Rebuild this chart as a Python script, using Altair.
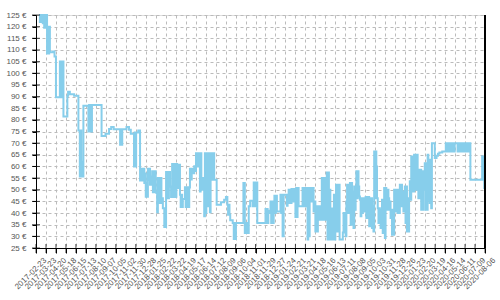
import altair as alt
import pandas as pd

START = "2017-02-23"

# day offset from START, price in EUR (step-after series)
DAYS = [
    8, 11, 13, 16, 19, 21, 23, 25, 27, 29, 31, 33, 35, 37, 39, 47, 52, 56, 67, 69,
    71, 73, 75, 77, 88, 90, 95, 107, 119, 123, 125, 127, 129, 131, 133, 147, 149, 151, 153, 155,
    157, 184, 195, 205, 211,
    218, 236, 238, 240, 242, 254, 261, 266, 275, 277, 279, 281, 287, 292, 294, 296, 298, 300, 302, 304,
    306, 308, 310, 312, 314, 316, 318, 320, 322, 324, 326, 328, 330, 332, 334, 336, 338, 340, 342, 344,
    346, 348, 350, 352, 354, 356, 360, 365, 367, 369, 371, 373, 376, 379, 382, 384, 386, 388, 390, 392,
    394, 396, 398, 400, 402, 404, 406, 408, 410, 412, 418, 420, 422, 424, 426, 428, 430,
    432, 435, 437, 440, 444, 447, 449, 451, 453, 455, 457, 460, 462, 464, 466, 468, 470, 472, 474, 476,
    478, 480, 482, 484, 486, 488, 490, 492, 494, 496, 498, 500, 507, 519, 528, 533, 537, 539, 541, 543,
    545, 552, 555, 557, 559, 561, 582, 586, 588, 590, 592, 594, 597, 601, 608, 611, 613, 615, 617, 619,
    621,
    644, 646, 648, 650, 652, 655, 658, 660, 662, 664, 667, 669, 671, 673, 676, 686, 688, 690, 692, 695,
    704, 706, 709, 711, 713, 715, 717, 719, 721, 723, 725, 728, 730, 732, 734, 737, 748, 750, 752, 754,
    756, 758, 760, 762, 764, 766, 768, 770, 772, 774, 776, 779, 781, 784, 786, 788, 791, 793, 795, 797,
    800, 802, 804, 806, 808, 810, 812, 814, 816, 818, 820, 822, 824, 826, 828, 830, 832, 834, 836, 838,
    840, 842, 844, 846, 848, 850, 852,
    861, 863, 865, 867, 869, 871, 873, 875, 877, 879, 881, 883, 885, 887, 889, 891, 893, 895, 897, 899,
    901, 903, 905, 907, 909, 911, 913, 915, 917, 919, 921, 923, 925, 927, 929, 931, 933, 935, 937, 939,
    941, 943, 945, 947, 949, 951, 953, 955, 957, 959, 961, 963, 965, 967, 969, 971, 973, 975, 977, 979,
    981, 983, 985, 987, 989, 991, 993, 995, 997, 999, 1001, 1003, 1005, 1007, 1009, 1011, 1013, 1015, 1017, 1019,
    1021, 1023, 1025, 1027, 1029, 1031, 1033, 1035, 1037, 1039, 1041, 1043, 1045, 1047, 1049, 1051, 1053, 1055, 1057, 1059,
    1061, 1063, 1065, 1067, 1069, 1071,
    1073, 1075, 1077, 1079, 1081, 1083, 1085, 1087, 1089, 1091, 1093, 1095, 1097, 1099, 1101, 1103, 1105, 1107, 1109, 1111,
    1119, 1124, 1128, 1132, 1140, 1150, 1152, 1154, 1156, 1158, 1160, 1162, 1164, 1166, 1168, 1170, 1173, 1175, 1183, 1187,
    1189, 1191, 1193, 1195, 1197, 1199, 1201, 1203, 1205, 1207, 1209, 1211, 1213, 1215, 1219, 1252, 1254, 1256, 1258, 1260,
]

PRICES = [
    122, 125, 122, 125, 121.5, 125, 119.5, 125, 119.5, 125, 108.5, 120, 108.5, 120, 109, 109.3, 107.2, 89.7, 105, 89.7,
    105, 89.7, 105, 81.4, 90.3, 92.1, 91, 90.3, 75.4, 55.7, 75.4, 55.7, 62, 55.7, 86, 75, 86.4, 75, 86.4, 75,
    86.4, 73.1, 74, 76.1, 76.9,
    76, 69.3, 76, 69.3, 76, 76.9, 75.7, 74, 60, 74.6, 60, 74.6, 75.4, 54, 59, 54, 59, 54, 59, 52.9,
    57, 47, 53, 47, 59, 54.3, 59, 52.1, 55.7, 52.1, 57.9, 48.9, 57.9, 48.9, 57.9, 49, 48.6, 40.3, 55, 44.3,
    55, 44.3, 55, 44.3, 46.4, 42.1, 34, 57.6, 46.4, 57.6, 46.4, 57.6, 51.4, 46.9, 61, 46.9, 61, 46.9, 61, 47,
    61, 50.7, 60.7, 50.7, 60.7, 47.9, 42.6, 47.9, 42.6, 46, 51.1, 42.6, 51.1, 42.6, 51.1, 42.6, 51,
    59, 54.4, 59, 57.1, 60.1, 58, 65.7, 60, 65.7, 60, 65.7, 49.3, 65.7, 50, 55, 50, 55, 38.6, 65.7, 40,
    65.7, 42.9, 65.7, 42.9, 65.7, 40.3, 65.7, 54.3, 65.7, 54.3, 65.7, 54.3, 43.6, 44.6, 45.7, 46.9, 43.6, 39.3, 43.6, 39.3,
    36.9, 35.7, 28.9, 35.7, 28.9, 35.7, 52.9, 31.4, 35.7, 31.4, 35.7, 31.4, 42.9, 45.3, 42.9, 53.1, 42.9, 53.1, 42.9, 53.1,
    35.7,
    41.7, 35.7, 41.7, 35.7, 41, 40, 45, 35.7, 45, 35.7, 41.6, 47.4, 40, 47.4, 40.7, 47.9, 40, 47.9, 30, 47.9,
    43.1, 47.9, 50, 44.3, 50, 44.3, 50.3, 45, 50.3, 45, 50.3, 38.3, 50.7, 38.3, 50.7, 42.9, 50.7, 42.9, 50.7, 42.9,
    50.7, 42.9, 50.7, 28.6, 50.7, 30, 50.7, 45, 50.7, 45, 50.7, 40.7, 45, 32.1, 42.9, 32.1, 42.9, 37.1, 42.9, 37.1,
    42.9, 55, 37.1, 55, 37.1, 55, 42, 37.1, 57.4, 28.6, 57.4, 28.6, 50, 28.6, 42, 28.6, 42, 28.6, 47.9, 28.6,
    47.9, 52.1, 32.1, 52.1, 32.1, 52.1, 28.6,
    31.7, 40, 31.7, 40, 30, 45, 52.1, 40, 52.1, 40, 52.9, 35, 52.9, 35, 49.3, 33.6, 51.4, 41.4, 51.4, 57.9,
    46.4, 57.9, 51.4, 47.1, 45.7, 38.6, 46.4, 40, 46.4, 40.7, 46.4, 40.7, 46.9, 37.9, 46.9, 37.9, 46.9, 34.3, 46.4, 34.3,
    46.4, 33.6, 42.9, 32.1, 66.4, 46.4, 66.4, 60, 46.4, 42.1, 35.7, 42.1, 41.4, 33.6, 41.4, 45.7, 31.4, 45.7, 50.7, 29.3,
    50.7, 50, 41.4, 50, 46.4, 41.4, 45, 37.9, 41.4, 30.7, 41.4, 30.7, 50, 40.7, 50, 40.7, 50, 40, 50, 40,
    52.1, 42.9, 52.1, 42.9, 49.3, 40.7, 49.3, 51.4, 35.7, 51.4, 32.1, 46.4, 32.1, 46.4, 53.6, 45.7, 64.3, 49.3, 64.3, 49.3,
    65, 50, 65, 50, 65, 50,
    46.4, 58.6, 46.4, 58.6, 41.4, 57.9, 41.4, 57.9, 50, 61.4, 41.4, 61.4, 41.4, 65, 45.7, 62.9, 44.3, 62.9, 42.1, 70,
    63.6, 64.6, 65.4, 66, 66.4, 70, 66.4, 70, 66.4, 70, 66.4, 70, 66.4, 70, 66.4, 70, 66.4, 70, 66.4, 70,
    66.4, 70, 66.4, 70, 66.4, 70, 66.4, 70, 66.4, 70, 66.4, 70, 66.4, 70, 54.3, 64.3, 54.3, 64.3, 50.7, 50.7,
]

X_TICKS = [
    "2017-02-23", "2017-03-23", "2017-04-20", "2017-05-18", "2017-06-15", "2017-07-13",
    "2017-08-10", "2017-09-07", "2017-10-05", "2017-11-02", "2017-11-30", "2017-12-28",
    "2018-01-25", "2018-02-22", "2018-03-22", "2018-04-19", "2018-05-17", "2018-06-14",
    "2018-07-12", "2018-08-09", "2018-09-06", "2018-10-04", "2018-11-01", "2018-11-29",
    "2018-12-27", "2019-01-24", "2019-02-21", "2019-03-21", "2019-04-18", "2019-05-16",
    "2019-06-13", "2019-07-11", "2019-08-08", "2019-09-05", "2019-10-03", "2019-10-31",
    "2019-11-28", "2019-12-26", "2020-01-23", "2020-02-20", "2020-03-19", "2020-04-16",
    "2020-05-14", "2020-06-11", "2020-07-09", "2020-08-06",
]
Y_TICKS = [25, 30, 35, 40, 45, 50, 55, 60, 65, 70, 75, 80, 85, 90, 95, 100, 105, 110, 115, 120, 125]

W, H = 449, 233
LINE_COLOR = "#87CEEB"
FONT = "Liberation Sans"

assert len(DAYS) == len(PRICES)

dates = pd.Timestamp(START) + pd.to_timedelta(DAYS, unit="D")
df = pd.DataFrame({"date": [d.strftime("%Y-%m-%d") for d in dates], "price": PRICES})
xticks_df = pd.DataFrame({"date": X_TICKS})
yticks_df = pd.DataFrame({"v": Y_TICKS})


def dt(s):
    y, m, d = (int(p) for p in s.split("-"))
    return alt.DateTime(year=y, month=m, date=d, utc=True)


x_scale = alt.Scale(type="utc", domain=[dt(X_TICKS[0]), dt(X_TICKS[-1])], nice=False)
y_scale = alt.Scale(domain=[25, 125], nice=False, zero=False)

x_axis = alt.Axis(
    values=[dt(s) for s in X_TICKS],
    labelExpr="utcFormat(datum.value, '%Y-%m-%d')",
    labelAngle=-45, labelAlign="right", labelBaseline="middle",
    labelOffset=9, labelPadding=6,
    labelOverlap=False, labelBound=False, labelFlush=False,
    labelFont=FONT, labelFontSize=8, labelColor="#555555",
    tickSize=5, tickColor="black", domainColor="black", domainWidth=1,
    grid=True, gridColor="#bbbbbb", gridDash=[3, 3], gridWidth=1,
    title=None,
)
y_axis = alt.Axis(
    values=Y_TICKS,
    labelExpr="datum.value + ' €'",
    labelOverlap=False,
    labelFont=FONT, labelFontSize=8, labelColor="#555555", labelPadding=6,
    tickSize=4, tickColor="black", domainColor="black", domainWidth=1,
    grid=True, gridColor="#bbbbbb", gridDash=[3, 3], gridWidth=1,
    title=None,
)

line = alt.Chart(df).mark_line(
    color=LINE_COLOR, strokeWidth=2, interpolate="step-after"
).encode(
    x=alt.X("date:T", scale=x_scale, axis=x_axis),
    y=alt.Y("price:Q", scale=y_scale, axis=y_axis),
)

xticks = alt.Chart(xticks_df).mark_tick(color="black", size=9, thickness=1, orient="vertical").encode(
    x=alt.X("date:T", scale=x_scale, axis=x_axis), y=alt.value(H + 0.5)
)
yticks = alt.Chart(yticks_df).mark_tick(color="black", size=8, thickness=1, orient="horizontal").encode(
    y=alt.Y("v:Q", scale=y_scale, axis=y_axis), x=alt.value(0)
)
right_border = alt.Chart(yticks_df).mark_rule(color="black", strokeWidth=1).encode(
    x=alt.value(W), y=alt.value(0), y2=alt.value(H)
)

chart = alt.layer(line, xticks, yticks, right_border).properties(
    width=W, height=H,
    padding={"left": 36, "top": 15, "right": 15, "bottom": 52},
    autosize="none",
).configure_view(stroke=None).configure(background="white")

chart.save("out.html", embed_options={"renderer": "svg", "actions": False})
